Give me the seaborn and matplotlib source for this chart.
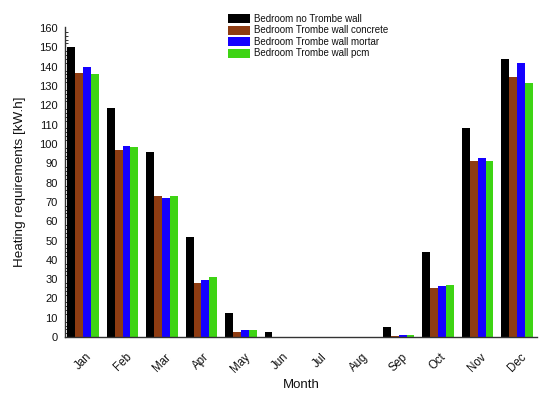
import pandas as pd
import matplotlib.pyplot as plt
import seaborn as sns
from matplotlib.ticker import MultipleLocator

months = ['Jan', 'Feb', 'Mar', 'Apr', 'May', 'Jun', 'Jul', 'Aug', 'Sep', 'Oct', 'Nov', 'Dec']
series = ['Bedroom no Trombe wall', 'Bedroom Trombe wall concrete',
          'Bedroom Trombe wall mortar', 'Bedroom Trombe wall pcm']
no_wall = [150, 118.5, 96, 52, 12.5, 2.5, 0, 0, 5, 44, 108, 144]
concrete = [136.5, 97, 73, 28, 2.5, 0, 0, 0, 0.5, 25.5, 91, 134.5]
mortar = [140, 99, 72, 29.5, 3.5, 0, 0, 0, 1, 26.5, 92.5, 142]
pcm = [136, 98.5, 73, 31, 3.5, 0, 0, 0, 1, 27, 91, 131.5]
cores = ['#000000', '#8e3c12', '#1400ff', '#3ed414']

rows = []
for nome, vals in zip(series, [no_wall, concrete, mortar, pcm]):
    for m, v in zip(months, vals):
        rows.append({'Month': m, 'Serie': nome, 'Valor': v})
df = pd.DataFrame(rows)

sns.set_style('white')
plt.rcParams['font.family'] = ['Liberation Sans', 'DejaVu Sans']
plt.rcParams['text.color'] = '#111111'
plt.rcParams['axes.labelcolor'] = '#111111'
plt.rcParams['xtick.color'] = '#111111'
plt.rcParams['ytick.color'] = '#111111'

fig = plt.figure(figsize=(5.5, 3.98), dpi=100)
ax = fig.add_axes([0.118, 0.153, 0.858, 0.779])
sns.barplot(data=df, x='Month', y='Valor', hue='Serie', palette=cores,
            width=0.8, linewidth=0, saturation=1, ax=ax)

ax.set_xlim(-0.46, 11.5)
ax.set_ylim(0, 160.5)
ax.yaxis.set_major_locator(MultipleLocator(10))
ax.yaxis.set_minor_locator(MultipleLocator(2))
ax.tick_params(axis='y', which='major', direction='out', length=4, width=0.8, labelsize=8, pad=1)
ax.tick_params(axis='y', which='minor', direction='in', length=2.5, width=0.6, left=True)
ax.tick_params(axis='x', which='major', direction='out', length=4, width=0.8, labelsize=8.3, pad=6)
plt.xticks(rotation=45)
for s in ['top', 'right']:
    ax.spines[s].set_visible(False)
for s in ['left', 'bottom']:
    ax.spines[s].set_color('#333333')
    ax.spines[s].set_linewidth(1)

ax.set_xlabel('Month', fontsize=9.5, labelpad=3)
ax.set_ylabel('Heating requirements [kW.h]', fontsize=9.7)
ax.yaxis.set_label_coords(-0.083, 0.5)

ax.legend(loc='upper left', bbox_to_anchor=(228 / 550, 1 - 14 / 398),
          bbox_transform=fig.transFigure, frameon=False, fontsize=7,
          handlelength=2.3, handleheight=1.05, labelspacing=0.15,
          handletextpad=0.35, borderpad=0, borderaxespad=0)

plt.savefig('out.png', dpi=100)
